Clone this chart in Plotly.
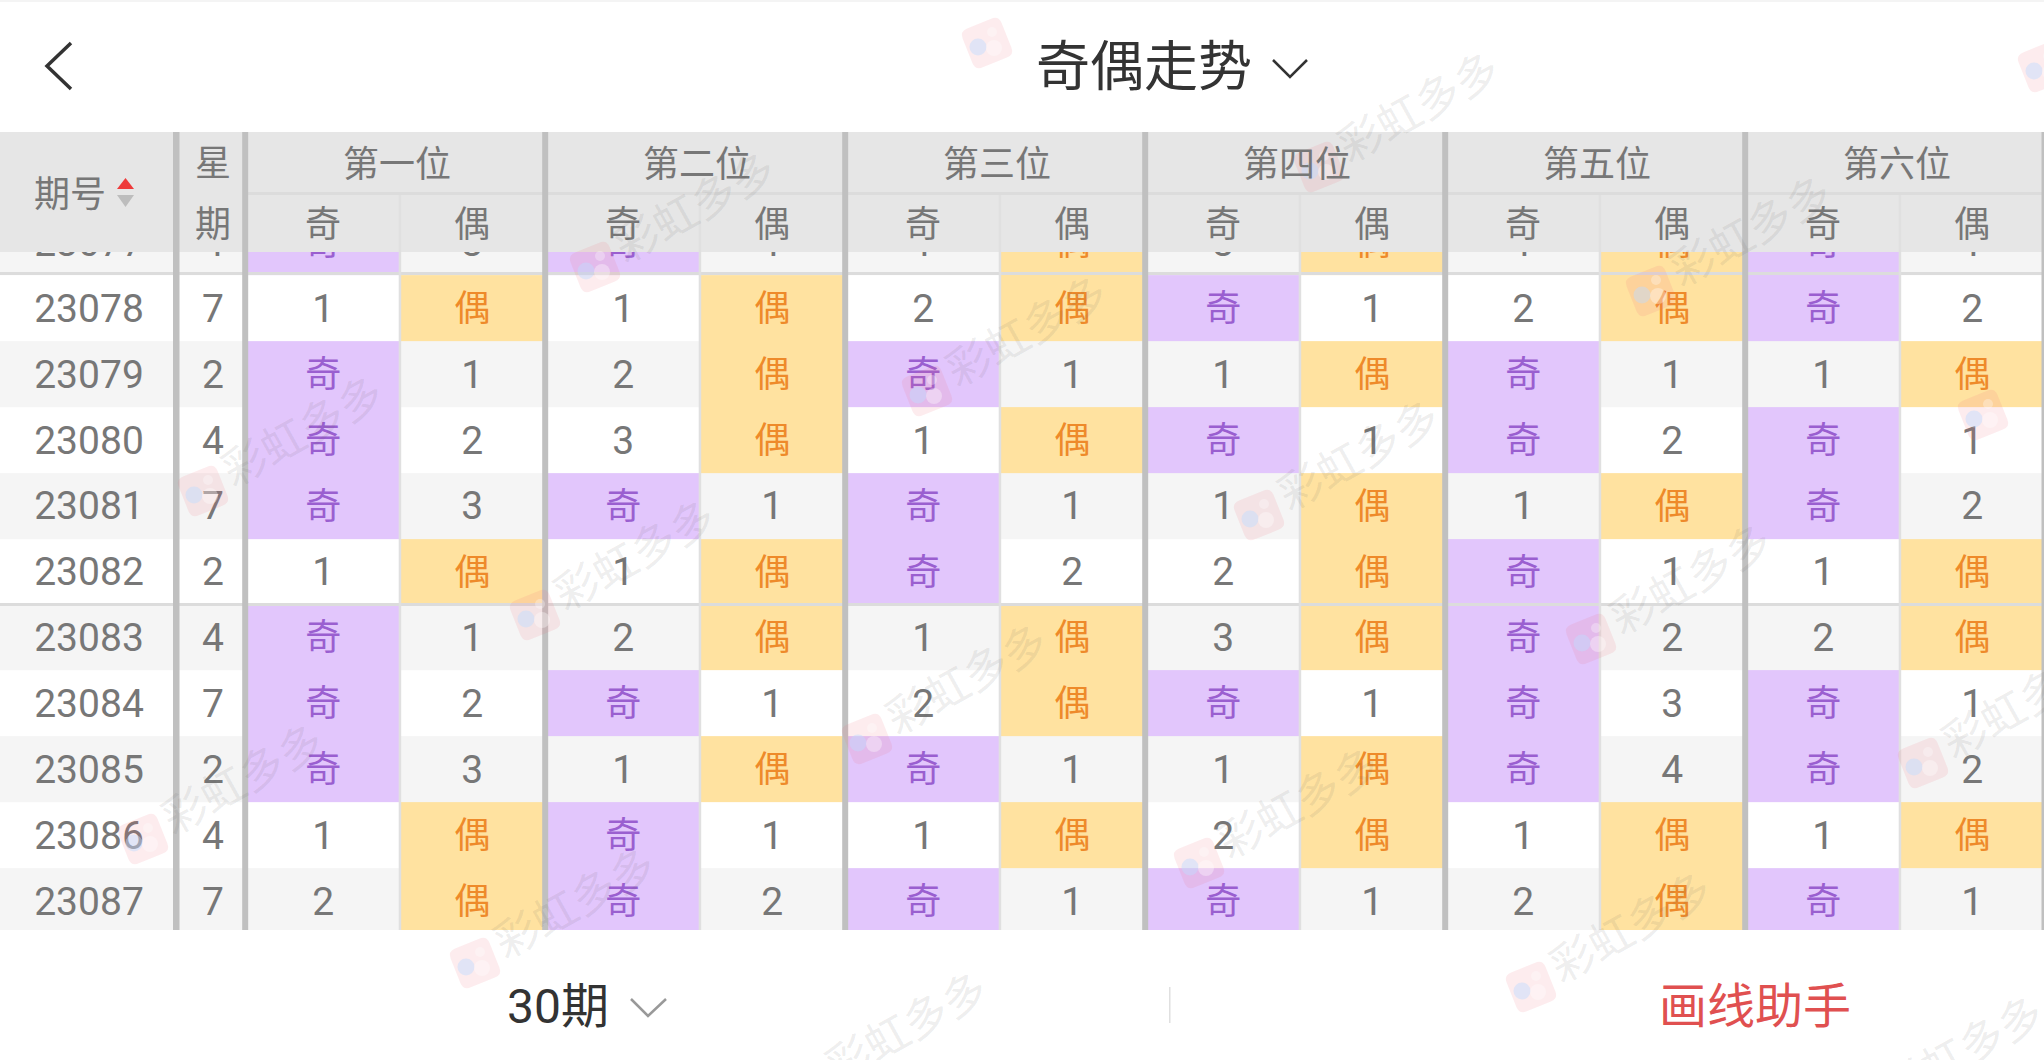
import math
import plotly.graph_objects as go

# table contents, one list per column, top row (23077) is half hidden by the header
issues = ['23077', '23078', '23079', '23080', '23081', '23082', '23083', '23084', '23085', '23086', '23087']
weekdays = ['4', '7', '2', '4', '7', '2', '4', '7', '2', '4', '7']
groups = ['第一位', '第二位', '第三位', '第四位', '第五位', '第六位']

p1_odd = ['奇', '1', '奇', '奇', '奇', '1', '奇', '奇', '奇', '1', '2']
p1_even = ['3', '偶', '1', '2', '3', '偶', '1', '2', '3', '偶', '偶']
p2_odd = ['奇', '1', '2', '3', '奇', '1', '2', '奇', '1', '奇', '奇']
p2_even = ['1', '偶', '偶', '偶', '1', '偶', '偶', '1', '偶', '1', '2']
p3_odd = ['1', '2', '奇', '1', '奇', '奇', '1', '2', '奇', '1', '奇']
p3_even = ['偶', '偶', '1', '偶', '1', '2', '偶', '偶', '1', '偶', '1']
p4_odd = ['3', '奇', '1', '奇', '1', '2', '3', '奇', '1', '2', '奇']
p4_even = ['偶', '1', '偶', '1', '偶', '偶', '偶', '1', '偶', '偶', '1']
p5_odd = ['1', '2', '奇', '奇', '1', '奇', '奇', '奇', '奇', '1', '2']
p5_even = ['偶', '偶', '1', '2', '偶', '1', '2', '3', '4', '偶', '偶']
p6_odd = ['奇', '奇', '1', '奇', '奇', '1', '2', '奇', '奇', '1', '奇']
p6_even = ['1', '2', '偶', '1', '2', '偶', '偶', '1', '2', '偶', '1']
columns = [p1_odd, p1_even, p2_odd, p2_even, p3_odd, p3_even, p4_odd, p4_even, p5_odd, p5_even, p6_odd, p6_even]

FONT = 'Roboto, "Noto Sans CJK SC", sans-serif'
GREY = '#777777'
PURPLE = '#9a5fd0'
ORANGE = '#ee8a2a'
SEP = '#c0c0c0'
THIN = '#e0e0e0'

# the page is 2044x1060 and the axes are just pixels
GROUP_X = [248.2 + 300 * i for i in range(6)]
ROW_H = 65.9
ROW_0 = 275 - ROW_H       # top of the half hidden row
TEXT_SHIFT = 4            # scatter text sits a bit high in its cell
n_rows = len(issues)

col_centres = []
for gx in GROUP_X:
    col_centres += [gx + 75, gx + 224]
row_centres = [ROW_0 + ROW_H * (i + 0.5) + TEXT_SHIFT for i in range(n_rows)]

# cell colours: 0 white, 1 stripe, 2 purple, 3 yellow
x_edges = [0, 176, 245]
for gx in GROUP_X:
    x_edges += [gx + 151, gx + 297]
x_edges[-1] = 2044
y_edges = [ROW_0 + ROW_H * i for i in range(n_rows + 1)]
z = []
for r in range(n_rows):
    stripe = 0 if r % 2 == 1 else 1
    row = [stripe, stripe]
    for col in columns:
        if col[r] == '奇':
            row.append(2)
        elif col[r] == '偶':
            row.append(3)
        else:
            row.append(stripe)
    z.append(row)

fig = go.Figure()
fig.add_trace(go.Heatmap(
    x=x_edges, y=y_edges, z=z, zmin=0, zmax=3, showscale=False, hoverinfo='skip',
    colorscale=[[0, '#ffffff'], [0.25, '#ffffff'], [0.25, '#f5f5f5'], [0.5, '#f5f5f5'],
                [0.5, '#e2c6fc'], [0.75, '#e2c6fc'], [0.75, '#ffe2a0'], [1, '#ffe2a0']]))

# numbers and the two column marks, split by colour
num_x, num_y, num_t = [], [], []
odd_x, odd_y, odd_t = [], [], []
even_x, even_y, even_t = [], [], []
for r in range(n_rows):
    num_x += [89, 213]
    num_y += [row_centres[r], row_centres[r]]
    num_t += [issues[r], weekdays[r]]
    for c, col in enumerate(columns):
        if col[r] == '奇':
            odd_x.append(col_centres[c]); odd_y.append(row_centres[r]); odd_t.append(col[r])
        elif col[r] == '偶':
            even_x.append(col_centres[c]); even_y.append(row_centres[r]); even_t.append(col[r])
        else:
            num_x.append(col_centres[c]); num_y.append(row_centres[r]); num_t.append(col[r])

fig.add_trace(go.Scatter(x=num_x, y=num_y, text=num_t, mode='text', hoverinfo='skip',
                         textfont=dict(family=FONT, size=39, color=GREY)))
fig.add_trace(go.Scatter(x=odd_x, y=odd_y, text=odd_t, mode='text', hoverinfo='skip',
                         textfont=dict(family=FONT, size=36, color=PURPLE)))
fig.add_trace(go.Scatter(x=even_x, y=even_y, text=even_t, mode='text', hoverinfo='skip',
                         textfont=dict(family=FONT, size=36, color=ORANGE)))

shapes = []


def rect(x0, y0, x1, y1, color):
    shapes.append(dict(type='rect', x0=x0, y0=y0, x1=x1, y1=y1, fillcolor=color,
                       line_width=0, layer='above'))


def polyline(points, color, width, closed=False):
    path = 'M ' + ' L '.join('%s %s' % p for p in points)
    if closed:
        shapes.append(dict(type='path', path=path + ' Z', fillcolor=color, line_width=0, layer='above'))
    else:
        shapes.append(dict(type='path', path=path, line=dict(color=color, width=width), layer='above'))


def logo(cx, cy):
    # little rounded app icon of the watermark, turned a bit anticlockwise
    a = math.radians(-22)
    s, k = 21, 8

    def rot(dx, dy):
        return '%.1f %.1f' % (cx + dx * math.cos(a) - dy * math.sin(a), cy + dx * math.sin(a) + dy * math.cos(a))
    path = ('M ' + rot(-s + k, -s) + ' L ' + rot(s - k, -s) + ' Q ' + rot(s, -s) + ' ' + rot(s, -s + k)
            + ' L ' + rot(s, s - k) + ' Q ' + rot(s, s) + ' ' + rot(s - k, s)
            + ' L ' + rot(-s + k, s) + ' Q ' + rot(-s, s) + ' ' + rot(-s, s - k)
            + ' L ' + rot(-s, -s + k) + ' Q ' + rot(-s, -s) + ' ' + rot(-s + k, -s) + ' Z')
    shapes.append(dict(type='path', path=path, fillcolor='rgba(238,110,120,0.13)', line_width=0, layer='above'))
    for dx, dy, r, color in [(-9, 4, 8.5, 'rgba(190,220,255,0.45)'),
                             (7, 5, 8, 'rgba(255,255,255,0.35)'),
                             (5, -11, 5, 'rgba(255,255,255,0.3)')]:
        shapes.append(dict(type='circle', x0=cx + dx - r, x1=cx + dx + r, y0=cy + dy - r, y1=cy + dy + r,
                           fillcolor=color, line_width=0, layer='above'))


# header block and footer go above the cells so row 23077 gets cut off
rect(0, 132, 2044, 252, '#e6e6e6')
rect(0, 930, 2044, 1060, '#ffffff')
rect(0, 0, 2044, 2, '#f4f4f4')
rect(248, 192, 2044, 195, '#dcdcdc')
rect(0, 272, 2044, 275, '#dcdcdc')
rect(0, 603, 2044, 606, '#dcdcdc')
for gx in GROUP_X:
    rect(gx + 150.5, 195, gx + 153, 930, THIN)
rect(173, 132, 179.5, 930, SEP)
rect(242.2, 132, 248.2, 930, SEP)
for gx in GROUP_X[1:]:
    rect(gx - 6, 132, gx, 930, SEP)
rect(2041.5, 132, 2044, 930, SEP)

# top bar icons
polyline([(71, 43), (47, 66), (71, 89)], '#333333', 3.5)
polyline([(1273, 60), (1290, 77), (1307, 60)], '#333333', 2.5)
# sort arrows
polyline([(125.5, 178), (134, 189), (117, 189)], '#ee3b3b', 0, closed=True)
polyline([(117, 195), (134, 195), (125.5, 207)], '#bdbdbd', 0, closed=True)
# footer
polyline([(631, 999), (648, 1016), (666, 999)], '#999999', 2.5)
rect(1169, 987, 1170.5, 1023, '#e0e0e0')

annotations = []


def label(x, y, text, size, color, angle=0):
    annotations.append(dict(x=x, y=y, text=text, showarrow=False, textangle=angle,
                            xanchor='center', yanchor='middle',
                            font=dict(family=FONT, size=size, color=color)))


label(1144, 67, '奇偶走势', 54, '#333333')
label(70, 195, '期号', 36, GREY)
label(213, 164, '星', 36, GREY)
label(213, 225, '期', 36, GREY)
for i, gx in enumerate(GROUP_X):
    label(gx + 149, 165, groups[i], 36, GREY)
    label(gx + 75, 225, '奇', 36, GREY)
    label(gx + 224, 225, '偶', 36, GREY)
label(558, 1006, '30期', 48, '#333333')
label(1755, 1006, '画线助手', 48, '#e05050')

# watermark repeats on a slanted grid, the one over the 星期 column isn't there
for i in range(-4, 7):
    for j in range(-3, 8):
        wx = 987 + 332 * i - 392 * j
        wy = 43 + 124 * i + 224 * j
        if (i, j) == (-1, 1):
            continue
        if -120 < wx < 2100 and -60 < wy < 1120:
            logo(wx, wy)
            label(wx + 100, wy - 59, '彩虹多多', 44, 'rgba(90,90,90,0.11)', angle=-29)

fig.update_layout(
    width=2044, height=1060,
    margin=dict(l=0, r=0, t=0, b=0),
    paper_bgcolor='#ffffff', plot_bgcolor='#ffffff',
    showlegend=False,
    xaxis=dict(range=[0, 2044], visible=False, fixedrange=True),
    yaxis=dict(range=[1060, 0], visible=False, fixedrange=True),
    shapes=shapes,
    annotations=annotations,
)

fig.write_html("out.html", config={'displayModeBar': False},
               post_script="document.body.style.margin='0';document.body.style.overflow='hidden';")
